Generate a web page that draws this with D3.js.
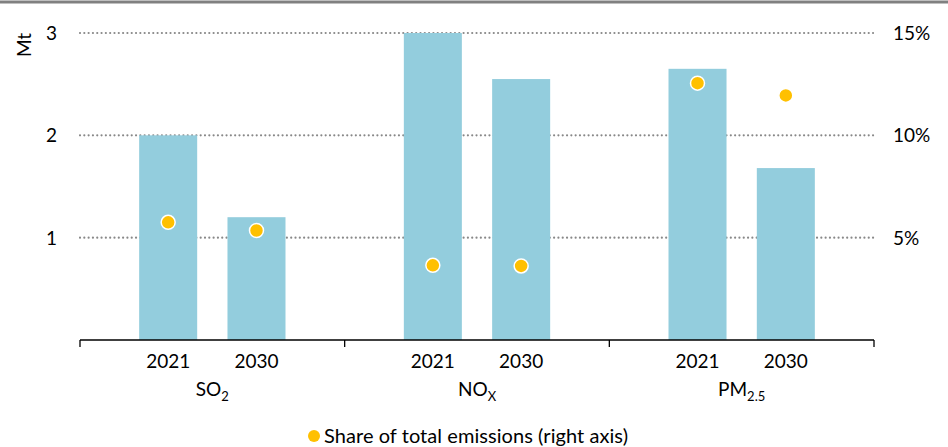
<!DOCTYPE html>
<html><head><meta charset="utf-8">
<script src="https://cdn.jsdelivr.net/npm/d3@7"></script>
<style>body{margin:0;background:#fff}svg{display:block}text{font-family:Lato,"Open Sans",sans-serif;fill:#000}</style>
</head><body><svg id="c" width="948" height="447"></svg>
<script>
const pollutants = ["SO2","NOx","PM2.5"];
const years = ["2021","2030"];
const emissions = [[2.0,1.2],[3.0,2.55],[2.65,1.68]]; // Mt
const shares = [[5.75,5.35],[3.65,3.62],[12.55,11.95]]; // %
const leftTicks = [1,2,3];
const rightTicks = [5,10,15];

const svg = d3.select("#c");
const W=948,H=447, x0=80, x1=874, yTop=33, yBot=340;
const fs=19;
svg.append("line").attr("x1",0).attr("x2",W).attr("y1",2).attr("y2",2).attr("stroke","#808080").attr("stroke-width",3);

const xg = d3.scaleBand().domain(pollutants).range([x0,x1]);
const xi = d3.scaleBand().domain(years).range([0,xg.bandwidth()]).paddingInner(0.343).paddingOuter(0.67);
const y = d3.scaleLinear().domain([0,3]).range([yBot,yTop]);
const y2 = d3.scaleLinear().domain([0,15]).range([yBot,yTop]);

// grid
svg.append("g").selectAll("line").data(leftTicks).join("line")
 .attr("x1",x0).attr("x2",x1).attr("y1",d=>y(d)).attr("y2",d=>y(d))
 .attr("stroke","#888").attr("stroke-width",2.2).attr("stroke-dasharray","0.01 4.3").attr("stroke-linecap","round");

// bars
const data=[];
pollutants.forEach((p,i)=>years.forEach((yr,j)=>data.push({p,yr,v:emissions[i][j],s:shares[i][j]})));
svg.append("g").selectAll("rect").data(data).join("rect")
 .attr("x",d=>xg(d.p)+xi(d.yr)).attr("width",xi.bandwidth())
 .attr("y",d=>y(d.v)).attr("height",d=>yBot-y(d.v)).attr("fill","#93CDDD");

// dots
svg.append("g").selectAll("circle").data(data).join("circle")
 .attr("cx",d=>xg(d.p)+xi(d.yr)+xi.bandwidth()/2).attr("cy",d=>y2(d.s)).attr("r",7)
 .attr("fill","#FFC000").attr("stroke","#fff").attr("stroke-width",1.5);

// x axis
svg.append("line").attr("x1",x0).attr("x2",x1).attr("y1",yBot).attr("y2",yBot).attr("stroke","#000").attr("stroke-width",1.3);
const bounds=[x0,...pollutants.map(p=>xg(p)+xg.bandwidth())];
svg.append("g").selectAll("line").data(bounds).join("line")
 .attr("x1",d=>d).attr("x2",d=>d).attr("y1",yBot).attr("y2",yBot+7).attr("stroke","#000").attr("stroke-width",1.3);

svg.append("g").selectAll("text").data(data).join("text")
 .attr("x",d=>xg(d.p)+xi(d.yr)+xi.bandwidth()/2).attr("y",368).attr("text-anchor","middle")
 .attr("font-size",fs).text(d=>d.yr);

const cat = svg.append("g").selectAll("text").data(pollutants).join("text")
 .attr("x",d=>xg(d)+xg.bandwidth()/2).attr("y",396).attr("text-anchor","middle").attr("font-size",fs);
cat.each(function(d){
  const t=d3.select(this);
  if(d==="SO2"){t.append("tspan").text("SO");t.append("tspan").attr("font-size",13).attr("dy",5).text("2");}
  else if(d==="NOx"){t.append("tspan").text("NO");t.append("tspan").attr("font-size",13).attr("dy",5).text("X");}
  else {t.append("tspan").text("PM");t.append("tspan").attr("font-size",13).attr("dy",5).text("2.5");}
});

// left ticks
svg.append("g").selectAll("text").data(leftTicks).join("text")
 .attr("x",57).attr("y",d=>y(d)+7).attr("text-anchor","end").attr("font-size",fs).text(d=>d);
svg.append("text").attr("transform","translate(31,45) rotate(-90)").attr("text-anchor","middle").attr("font-size",fs).text("Mt");

// right ticks
svg.append("g").selectAll("text").data(rightTicks).join("text")
 .attr("x",893).attr("y",d=>y2(d)+7).attr("text-anchor","start").attr("font-size",fs).text(d=>d+"%");

// legend
svg.append("circle").attr("cx",314).attr("cy",436).attr("r",6).attr("fill","#FFC000");
svg.append("text").attr("x",324).attr("y",443).attr("font-size",20).attr("textLength",304).text("Share of total emissions (right axis)");
</script></body></html>
